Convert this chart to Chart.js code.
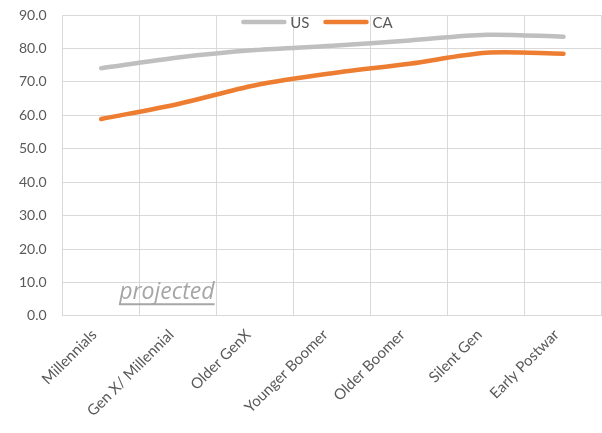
<!DOCTYPE html>
<html>
<head>
<meta charset="utf-8">
<script src="https://cdn.jsdelivr.net/npm/chart.js@4/dist/chart.umd.min.js"></script>
<style>
  html, body { margin: 0; padding: 0; background: #ffffff; }
  #wrap { width: 602px; height: 433px; }
</style>
</head>
<body>
<div id="wrap"><canvas id="c" width="602" height="433"></canvas></div>
<script>
// Generations on the x axis
const generations = ['Millennials', 'Gen X/ Millennial', 'Older GenX', 'Younger Boomer', 'Older Boomer', 'Silent Gen', 'Early Postwar'];
// Series values
const usValues = [74.1, 77.3, 79.5, 80.8, 82.4, 84.1, 83.5];
const caValues = [58.9, 63.4, 69.0, 72.6, 75.4, 78.7, 78.4];
const seriesNames = ['US', 'CA'];
// Annotation text in the plot
const noteText = 'projected';

const labelColor = '#595959';
const gridColor = '#d9d9d9';
const fontFamily = 'Lato, "Open Sans", sans-serif';

// Legend drawn over the top of the plot area
const overlayLegend = {
  id: 'overlayLegend',
  afterDatasetsDraw(chart) {
    const { ctx, chartArea } = chart;
    const sets = chart.data.datasets;
    const lineLen = 45, gap = 4, itemGap = 14;
    ctx.save();
    ctx.font = '15px ' + fontFamily;
    ctx.textBaseline = 'middle';
    const widths = sets.map(ds => lineLen + gap + ctx.measureText(ds.label).width);
    const total = widths.reduce((a, b) => a + b, 0) + itemGap * (sets.length - 1);
    let x = chart.width / 2 + 16 - total / 2;
    const y = chartArea.top + 7;
    sets.forEach((ds, i) => {
      ctx.strokeStyle = ds.borderColor;
      ctx.lineWidth = 4.5;
      ctx.lineCap = 'round';
      ctx.beginPath();
      ctx.moveTo(x + 2, y);
      ctx.lineTo(x + lineLen - 2, y);
      ctx.stroke();
      ctx.fillStyle = labelColor;
      ctx.fillText(ds.label, x + lineLen + gap, y + 1);
      x += widths[i] + itemGap;
    });
    ctx.restore();
  }
};

// Italic underlined note near the bottom of the plot
const notePlugin = {
  id: 'note',
  afterDatasetsDraw(chart) {
    const { ctx, scales } = chart;
    const xs = scales.x, ys = scales.y;
    const left = xs.getPixelForTick(0) + 18;
    const base = ys.getPixelForValue(5.1);
    ctx.save();
    ctx.font = 'italic 23px "Open Sans", sans-serif';
    ctx.fillStyle = '#a6a6a6';
    ctx.textBaseline = 'alphabetic';
    ctx.fillText(noteText, left, base);
    const w = ctx.measureText(noteText).width;
    ctx.strokeStyle = '#a6a6a6';
    ctx.lineWidth = 2;
    ctx.beginPath();
    ctx.moveTo(left, base + 5.5);
    ctx.lineTo(left + w, base + 5.5);
    ctx.stroke();
    ctx.restore();
  }
};

new Chart(document.getElementById('c'), {
  type: 'line',
  data: {
    labels: generations,
    datasets: [
      {
        label: seriesNames[0],
        data: usValues,
        borderColor: '#bfbfbf',
        backgroundColor: '#bfbfbf',
        borderWidth: 4.5,
        pointRadius: 0,
        tension: 0.3,
        borderCapStyle: 'round'
      },
      {
        label: seriesNames[1],
        data: caValues,
        borderColor: '#ed7d31',
        backgroundColor: '#ed7d31',
        borderWidth: 4.5,
        pointRadius: 0,
        tension: 0.3,
        borderCapStyle: 'round'
      }
    ]
  },
  options: {
    responsive: false,
    animation: false,
    devicePixelRatio: 1,
    layout: { padding: { top: 0, right: -4, left: 3, bottom: 3 } },
    plugins: {
      legend: { display: false },
      tooltip: { enabled: false }
    },
    scales: {
      x: {
        offset: true,
        grid: { offset: true, color: gridColor, lineWidth: 1, drawTicks: false },
        border: { color: gridColor },
        ticks: {
          color: labelColor,
          font: { family: fontFamily, size: 15 },
          minRotation: 45,
          maxRotation: 45,
          padding: 10,
          labelOffset: -7
        }
      },
      y: {
        min: 0,
        max: 90,
        grid: { color: gridColor, drawTicks: false },
        border: { display: false },
        ticks: {
          stepSize: 10,
          color: labelColor,
          font: { family: fontFamily, size: 14 },
          padding: 16,
          callback: v => v.toFixed(1)
        },
        // keep the wide label gap from pushing the plot top down
        afterFit: scale => { scale.paddingTop = 15; }
      }
    }
  },
  plugins: [overlayLegend, notePlugin]
});
</script>
</body>
</html>
